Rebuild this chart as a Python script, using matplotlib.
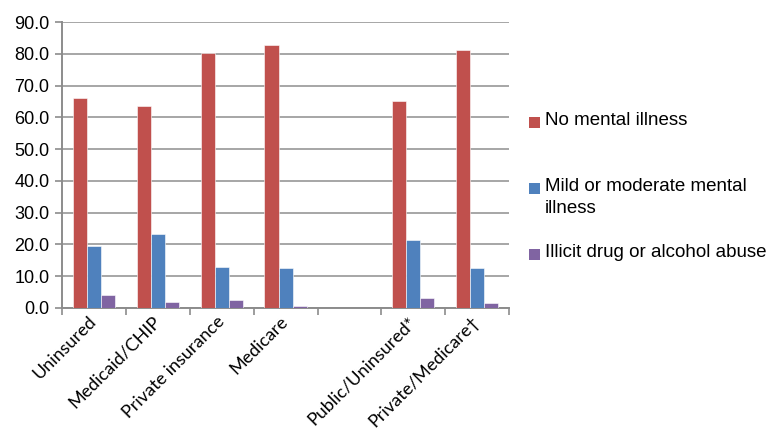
import numpy as np
import matplotlib
matplotlib.use("Agg")
import matplotlib.pyplot as plt
from matplotlib.patches import Rectangle

# data
categories = ["Uninsured", "Medicaid/CHIP", "Private insurance", "Medicare", "",
              "Public/Uninsured*", "Private/Medicare\u2020"]
no_illness = [66.1, 63.7, 80.3, 82.7, np.nan, 65.1, 81.3]
mild_moderate = [19.5, 23.2, 12.9, 12.4, np.nan, 21.4, 12.7]
drug_alcohol = [4.0, 2.0, 2.6, 0.6, np.nan, 3.0, 1.6]
series_labels = ["No mental illness", "Mild or moderate mental\nillness",
                 "Illicit drug or alcohol abuse"]
colors = ["#C0504D", "#4F81BD", "#8064A2"]

plt.rcParams["font.family"] = ["Liberation Sans", "DejaVu Sans"]

W, H = 771, 433
fig = plt.figure(figsize=(W / 100, H / 100), dpi=100)
ax = fig.add_axes([0.0804, 0.289, 0.580, 0.660])

x = np.arange(len(categories))
w = 0.22
for i, (vals, c) in enumerate(zip([no_illness, mild_moderate, drug_alcohol], colors)):
    ax.bar(x + (i - 1) * w, vals, width=w, color=c, edgecolor="white", linewidth=0.4, zorder=3)

ax.set_xlim(-0.5, len(categories) - 0.5)
ax.set_ylim(0, 90)
ax.set_yticks(np.arange(0, 91, 10))
ax.set_yticklabels([f"{v:.1f}" for v in np.arange(0, 91, 10)], fontsize=13)
ax.yaxis.grid(True, color="#a6a6a6", linewidth=1.4, zorder=0)

ax.set_xticks(x)
ax.set_xticklabels(categories, rotation=45, ha="right", va="center", rotation_mode="anchor",
                   fontsize=13, family=["Lato", "DejaVu Sans"])
ax.tick_params(axis="x", which="major", length=0, pad=8)
ax.set_xticks(np.arange(-0.5, len(categories)), minor=True)
ax.tick_params(axis="x", which="minor", length=5, color="#8c8c8c", width=1.2)
ax.tick_params(axis="y", length=5, color="#8c8c8c", width=1.2, pad=4)

for s in ["top", "right"]:
    ax.spines[s].set_visible(False)
for s in ["left", "bottom"]:
    ax.spines[s].set_color("#8c8c8c")
    ax.spines[s].set_linewidth(1.4)

# legend drawn by hand to match the uneven Excel spacing
legend_rows = [122, 188, 254]
for lab, c, yp in zip(series_labels, colors, legend_rows):
    fig.patches.append(Rectangle((529 / W, 1 - (yp + 5.5) / H), 11 / W, 11 / H,
                                 transform=fig.transFigure, facecolor=c, edgecolor="none"))
    fig.text(545 / W, 1 - (yp - 10) / H, lab, fontsize=13.5, va="top", ha="left",
             linespacing=1.4)

fig.savefig("out.png", dpi=100)
